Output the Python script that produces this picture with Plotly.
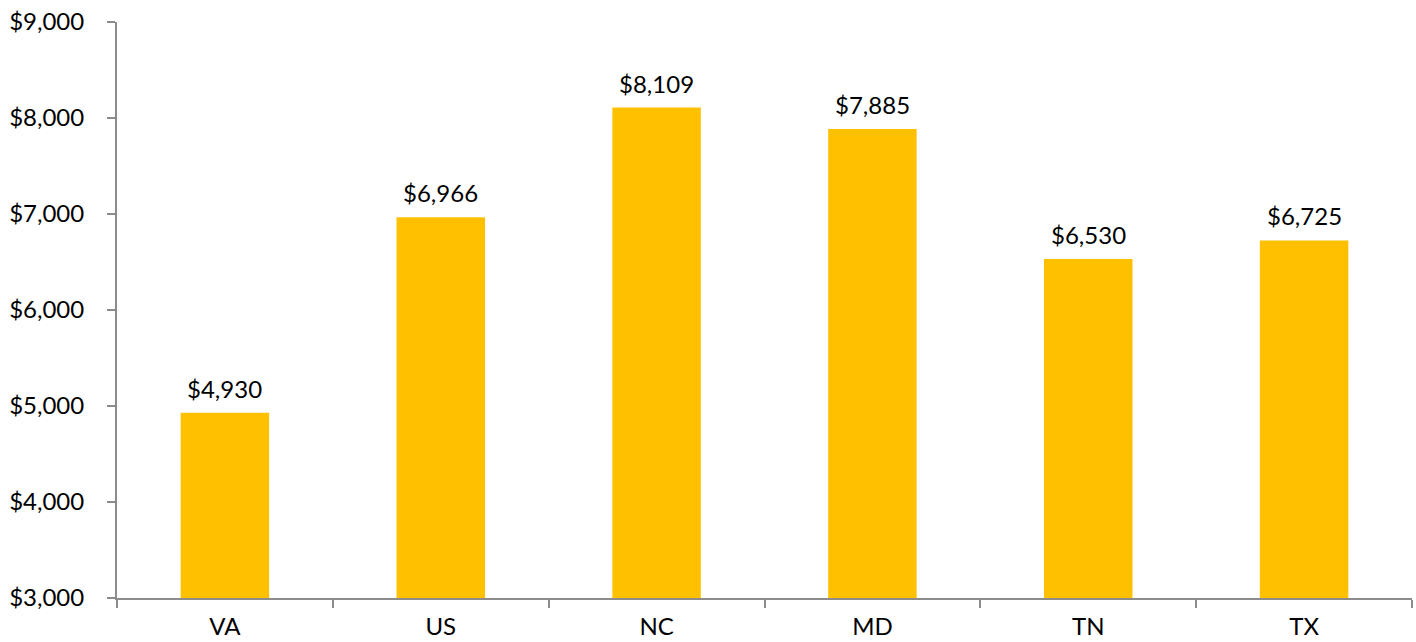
import plotly.graph_objects as go

categories = ["VA", "US", "NC", "MD", "TN", "TX"]
values = [4930, 6966, 8109, 7885, 6530, 6725]
tick_vals = [3000, 4000, 5000, 6000, 7000, 8000, 9000]
tick_text = ["$3,000", "$4,000", "$5,000", "$6,000", "$7,000", "$8,000", "$9,000"]

FONT = "Lato, Calibri, Carlito, sans-serif"
AXIS_COLOR = "#8c8c8c"
FS = 24

fig = go.Figure()
fig.add_trace(go.Bar(
    x=categories, y=values,
    marker=dict(color="#FFC000", line=dict(width=0)),
    hoverinfo="skip",
))

for c, v in zip(categories, values):
    fig.add_annotation(
        x=c, y=v, text=f"${v:,}", showarrow=False,
        yanchor="bottom", yshift=8,
        font=dict(family=FONT, size=FS, color="#000000"),
    )

fig.update_layout(
    width=1416, height=642,
    margin=dict(l=117, r=4, t=22, b=44),
    paper_bgcolor="white", plot_bgcolor="white",
    bargap=0.59,
    showlegend=False,
    font=dict(family=FONT, size=FS, color="#000000"),
)
fig.update_xaxes(
    automargin=False,
    showline=True, linecolor=AXIS_COLOR, linewidth=2,
    ticks="outside", tickson="boundaries", ticklen=8, tickcolor=AXIS_COLOR, tickwidth=2,
    ticklabelstandoff=6,
    showgrid=False, tickfont=dict(family=FONT, size=FS),
)
fig.update_yaxes(
    automargin=False,
    range=[3000, 9000], tickvals=tick_vals, ticktext=tick_text,
    showline=True, linecolor=AXIS_COLOR, linewidth=2,
    ticks="outside", ticklen=8, tickcolor=AXIS_COLOR, tickwidth=2,
    ticklabelstandoff=18,
    showgrid=False, zeroline=False, tickfont=dict(family=FONT, size=FS),
)

fig.write_html(
    "out.html",
    config={"displayModeBar": False},
    post_script="document.body.style.margin='0';",
)
